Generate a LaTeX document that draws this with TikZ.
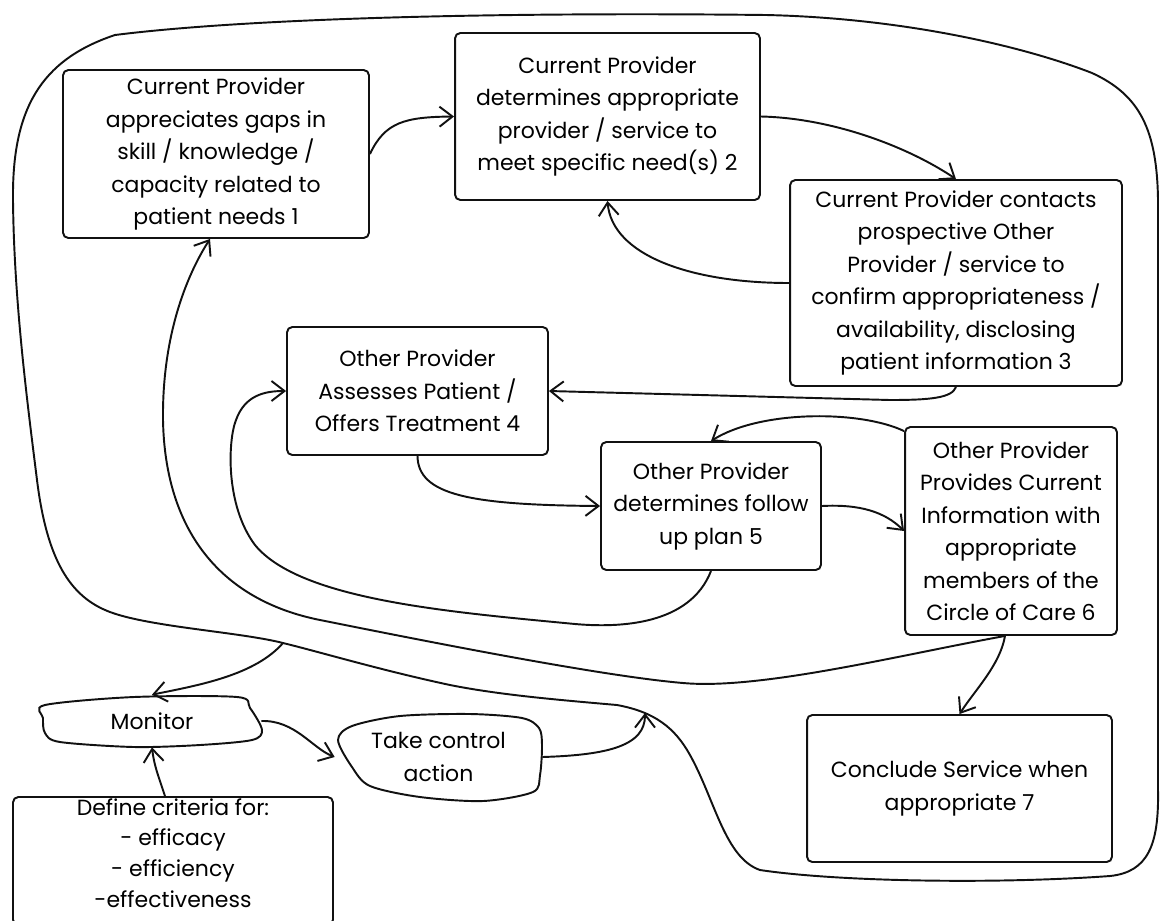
\documentclass[tikz,border=0pt]{standalone}
\usepackage{fontspec}
\setmainfont{Poppins}
\usepackage{tikz}
\usetikzlibrary{arrows.meta,calc}
\definecolor{sketchink}{HTML}{111111}

\begin{document}
\begin{tikzpicture}[
    x=0.02cm,y=-0.02cm,
    box/.style  = {rectangle,rounded corners=3pt,draw=sketchink,line width=1.1pt,
                   align=center,inner sep=0pt,font=\fontsize{12.5}{18.5}\selectfont},
    blob/.style = {align=center,inner sep=0pt,font=\fontsize{12.5}{18.5}\selectfont},
    fl/.style   = {-{Straight Barb[length=2.6mm,width=4mm]},sketchink,line width=1.1pt},
    ring/.style = {sketchink,line width=1.1pt},
  ]
  \useasboundingbox (0,0) rectangle (1162,920);

  \node[box,minimum width=6.12cm,minimum height=3.36cm] (gap) at (216,154)
       {Current Provider\\appreciates gaps in\\skill / knowledge /\\capacity related to\\patient needs 1};
  \node[box,minimum width=6.10cm,minimum height=3.34cm] (pick) at (607.5,116.5)
       {Current Provider\\determines appropriate\\provider / service to\\meet specific need(s) 2};
  \node[box,minimum width=6.64cm,minimum height=4.12cm] (contact) at (956,283)
       {Current Provider contacts\\prospective Other\\Provider / service to\\confirm appropriateness /\\availability, disclosing\\patient information 3};
  \node[box,minimum width=5.22cm,minimum height=2.56cm] (assess) at (417.5,391)
       {Other Provider\\Assesses Patient /\\Offers Treatment 4};
  \node[box,minimum width=4.40cm,minimum height=2.56cm] (plan) at (711,506)
       {Other Provider\\determines follow\\up plan 5};
  \node[box,minimum width=4.24cm,minimum height=4.16cm] (share) at (1011,531)
       {Other Provider\\Provides Current\\Information with\\appropriate\\members of the\\Circle of Care 6};
  \node[box,minimum width=6.10cm,minimum height=2.94cm] (close) at (959.5,788.5)
       {Conclude Service when\\appropriate 7};
  \node[box,minimum width=6.40cm,minimum height=2.56cm,text depth=0.32cm,
        font=\fontsize{12.5}{17.6}\selectfont] (crit) at (173,861)
       {Define criteria for:\\- efficacy\\- efficiency\\-effectiveness};

  % the two loose shapes of the control loop
  \node[blob,minimum width=4.36cm,minimum height=1.04cm] (mon) at (152,721) {Monitor};
  \node[blob,minimum width=4.14cm,minimum height=1.6cm] (act) at (438.5,757) {Take control\\action};
  \draw[ring] plot[smooth cycle,tension=0.5] coordinates {(45,705) (134,697) (237,697)
        (250,708) (262,730) (252,740) (200,745) (134,747) (60,742) (45,733) (43,718)};
  \draw[ring] plot[smooth cycle,tension=0.5] coordinates {(338,740) (352,726) (400,716)
        (470,714) (522,718) (539,728) (542,745) (540,775) (533,792) (483,801) (420,797)
        (370,786) (352,767)};

  % outer loop round the whole process
  \coordinate (tap) at (283,643);
  \coordinate (tapin) at (645,713);
  \draw[ring] (13,200) .. controls (12,110) and (40,60) .. (115,35)
        .. controls (250,18) and (500,12) .. (766,15)
        .. controls (900,18) and (1020,45) .. (1092,73)
        .. controls (1140,95) and (1157,130) .. (1158,200) -- (1158,790)
        .. controls (1159,845) and (1148,872) .. (1110,876)
        .. controls (1000,884) and (840,882) .. (760,870)
        .. controls (725,858) and (715,800) .. (690,755)
        .. controls (675,728) and (655,712) .. (617,705)
        .. controls (560,700) and (500,695) .. (450,685)
        .. controls (380,670) and (320,652) .. (tap)
        .. controls (240,632) and (150,627) .. (110,612)
        .. controls (70,597) and (47,560) .. (37,480)
        .. controls (27,400) and (14,300) .. (13,200);

  \draw[fl] (gap.east) .. controls (385,122) and (405,117) .. (pick.west);
  \draw[fl] (pick.east) .. controls (830,118) and (905,145) .. (contact.north);
  \draw[fl] (contact.west) .. controls (690,283) and (612,255) .. (pick.south);
  \draw[fl] (contact.south) .. controls (952,398) and (930,400) .. (890,400) -- (assess.east);
  \draw[fl] (assess.south) .. controls (418,495) and (470,505) .. (plan.west);
  \draw[fl] (plan.east) .. controls (860,504) and (885,512) .. (share.west);
  \draw[fl] ($(share.north west)+(0,5)$) .. controls (860,410) and (760,410) .. (plan.north);
  \draw[fl] (plan.south) .. controls (690,625) and (620,628) .. (575,624)
        .. controls (450,612) and (300,600) .. (255,545)
        .. controls (225,505) and (228,440) .. (236,420)
        .. controls (245,395) and (265,391) .. (assess.west);
  \draw[fl] ($(share.south)+(-6,0)$) .. controls (900,655) and (760,690) .. (683,683)
        .. controls (600,676) and (420,640) .. (320,620)
        .. controls (220,600) and (165,530) .. (163,420)
        .. controls (162,330) and (190,270) .. ($(gap.south)+(-6,0)$);
  \draw[fl] ($(share.south)+(-6,0)$) .. controls (1000,665) and (975,690) .. (close.north);

  \draw[fl] (tap) .. controls (255,675) and (200,685) .. (mon.north);
  \draw[fl] ($(crit.north)+(-8,0)$) .. controls (158,775) and (154,765) .. (mon.south);
  \draw[fl] (mon.east) .. controls (295,720) and (312,748) .. (act.west);
  \draw[fl] (act.east) .. controls (610,755) and (645,745) .. (tapin);

\end{tikzpicture}
\end{document}
